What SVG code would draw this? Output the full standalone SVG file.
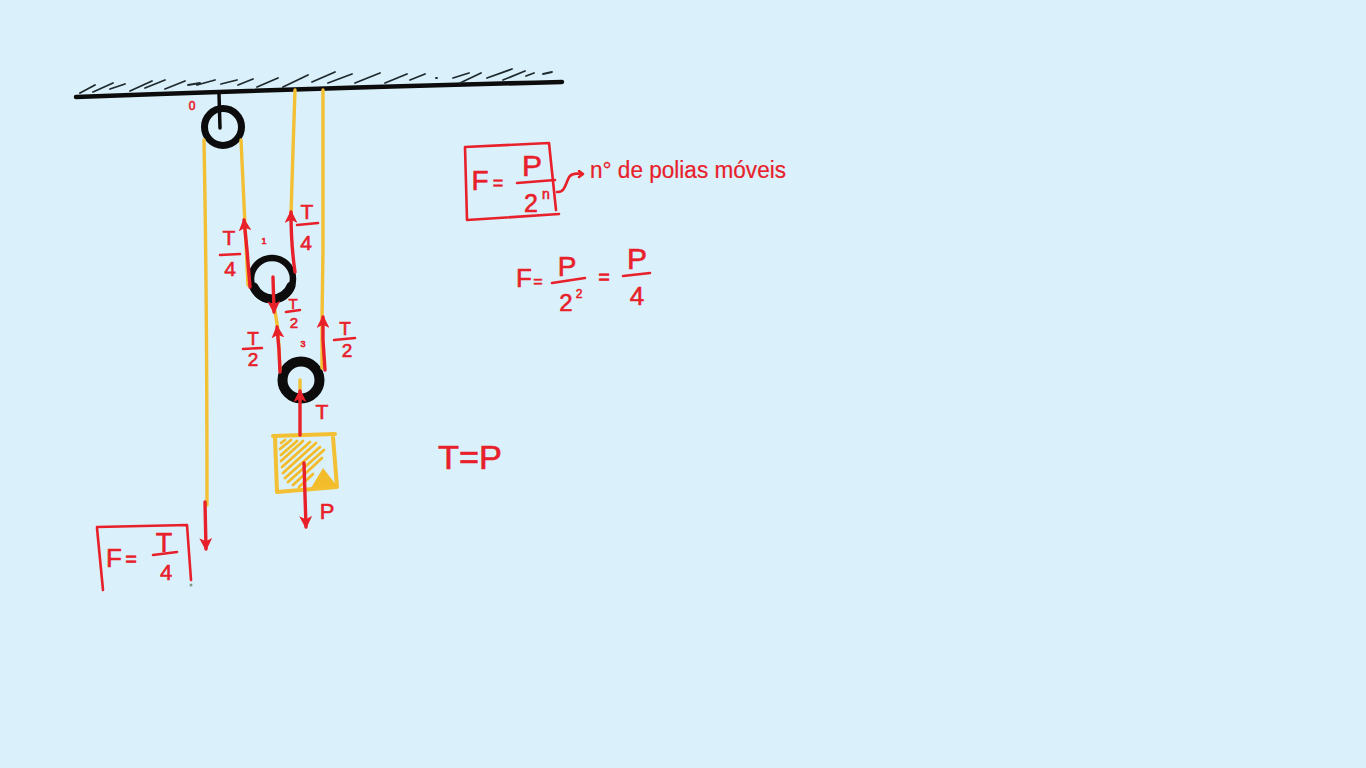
<svg xmlns="http://www.w3.org/2000/svg" width="1366" height="768" viewBox="0 0 1366 768">
<style>
.bg{fill:#daf1fb}
.k{fill:none;stroke:#0c0c0c;stroke-linecap:round;stroke-linejoin:round}
.h{fill:none;stroke:#1f2a2e;stroke-width:1.8;stroke-linecap:round}
.y{fill:none;stroke:#f3bf33;stroke-width:3.4;stroke-linecap:round;stroke-linejoin:round}
.b{fill:none;stroke:#f3bf33;stroke-width:4;stroke-linecap:round;stroke-linejoin:round}
.ys{fill:none;stroke:#f3bc2a;stroke-width:2.8;stroke-linecap:round}
.r{fill:none;stroke:#e8202a;stroke-width:2.6;stroke-linecap:round;stroke-linejoin:round}
.a{fill:none;stroke:#e8202a;stroke-width:3.4;stroke-linecap:round;stroke-linejoin:round;marker-end:url(#ah)}
text{font-family:"Liberation Sans",Arial,sans-serif;fill:#e8202a;stroke:#e8202a;stroke-width:.6;text-anchor:middle}
#label-polias text{stroke-width:.2}
</style>
<defs>
<marker id="ah" viewBox="0 0 10 10" refX="8.5" refY="5" markerWidth="3.8" markerHeight="3.8" orient="auto" markerUnits="strokeWidth">
<path d="M0 0L10 5L0 10L2.5 5Z" fill="#e8202a"/>
</marker>
</defs>
<rect class="bg" width="1366" height="768"/>

<g id="ceiling">
<path class="k" stroke-width="4.5" d="M76 97Q320 88 562 82"/>
<path class="h" d="M80 93L95 85M93 92L113 83M110 89L125 84M130 91L152 81M145 88L165 80M165 89L185 81M188 85L200 83M197 85L215 80M221 84L237 80M238 85L253 79M257 87L278 78M283 87L308 75M312 82L335 72M328 83L352 74M355 83L380 73M385 83L407 74M410 80L425 74M436 78L437 78M453 78L469 73M460 83L481 73M487 78L512 69M503 80L525 71M526 76L534 73M543 74L552 72"/>
</g>

<g id="pulley-1">
<path class="k" stroke-width="3.5" d="M219 94L220 128"/>
<circle class="k" stroke-width="7" cx="223" cy="127" r="18.5"/>
</g>
<g id="pulley-2">
<circle class="k" stroke-width="6.5" cx="272" cy="279" r="21"/>
<path class="k" stroke-width="9" d="M254 287A20 20 0 0 0 291 286"/>
</g>
<g id="pulley-3">
<circle class="k" stroke-width="10" cx="301" cy="380" r="18.5"/>
</g>

<g id="block">
<path class="b" d="M273 436L335 434M275 437L277 492L337 487L333 437"/>
<path class="ys" d="M281 443L285 440M280 449L291 440M281 455L297 441M281 461L303 441M282 467L310 442M283 473L316 443M285 478L320 447M288 482L324 450M293 485L322 458M299 487L313 474"/>
<path d="M323 468L337 486L311 488Z" fill="#f3bc2a"/>
</g>

<g id="connectors">
<path class="y" d="M204 140Q207 300 207 505"/>
<path class="y" d="M241 140L245 225L248 285"/>
<path class="y" d="M295 90L293 150L291 215"/>
<path class="y" d="M323 90L323 250L322 320L322 368"/>
<path class="y" d="M274 305L278 330L280 370"/>
<path class="y" d="M300 380V392"/>
<path class="a" d="M250 287L247 250L244 220"/>
<path class="a" d="M295 272Q291 245 291 212"/>
<path class="a" d="M273 277L274 312"/>
<path class="a" d="M280 372L279 350L277 327"/>
<path class="a" d="M325 370L323 340L323 317"/>
<path class="a" d="M300 435L300 391"/>
<path class="a" d="M304 463L306 527"/>
<path class="a" d="M205 502L206 549"/>
<path class="r" d="M557 192C566 193 566 180 570 176C574 172 578 174 582 174M579 171L583 174L579 177"/>
</g>

<g id="label-t4-left"><text x="229" y="245" font-size="21">T</text><path class="r" d="M220 255L240 254"/><text x="230" y="276" font-size="21">4</text></g>
<g id="label-t4-right"><text x="307" y="219" font-size="21">T</text><path class="r" d="M297 225L318 223"/><text x="306" y="250" font-size="21">4</text></g>
<g id="label-t2-center"><text x="293" y="309" font-size="15">T</text><path class="r" d="M286 312L300 310"/><text x="294" y="328" font-size="15">2</text></g>
<g id="label-t2-left"><text x="253" y="345" font-size="19">T</text><path class="r" d="M243 349L262 348"/><text x="253" y="366" font-size="19">2</text></g>
<g id="label-t2-right"><text x="345" y="335" font-size="19">T</text><path class="r" d="M334 340L355 338"/><text x="347" y="357" font-size="19">2</text></g>
<g id="label-t"><text x="322" y="419" font-size="21">T</text></g>
<g id="label-p"><text x="327" y="519" font-size="22">P</text></g>
<g id="label-0"><text x="192" y="110" font-size="12">0</text></g>
<g id="label-1"><text x="264" y="244" font-size="9">1</text></g>
<g id="label-3"><text x="303" y="347" font-size="9">3</text></g>

<g id="formula-general">
<path class="r" d="M465 147L549 143L556 210M465 147L467 220L559 214"/>
<text x="480" y="190" font-size="28">F</text><text x="498" y="189" font-size="18">=</text>
<text x="532" y="176" font-size="30">P</text>
<path class="r" d="M517 183L555 180"/>
<text x="531" y="212" font-size="25">2</text><text x="546" y="199" font-size="14">n</text>
</g>
<g id="label-polias"><text x="688" y="178" font-size="23" textLength="196" lengthAdjust="spacingAndGlyphs">n° de polias móveis</text></g>

<g id="formula-result">
<text x="524" y="287" font-size="26">F</text><text x="538" y="287" font-size="16">=</text>
<text x="567" y="276" font-size="28">P</text>
<path class="r" d="M552 283L585 278"/>
<text x="566" y="311" font-size="24">2</text><text x="579" y="298" font-size="12">2</text>
<text x="604" y="284" font-size="20">=</text>
<text x="637" y="269" font-size="30">P</text>
<path class="r" d="M623 276L650 273"/>
<text x="637" y="305" font-size="26">4</text>
</g>

<g id="formula-f">
<path class="r" d="M97 528L103 590M97 527L187 525L191 580"/>
<text x="114" y="567" font-size="26">F</text><text x="131" y="566" font-size="20">=</text>
<text x="164" y="552" font-size="27">T</text>
<path class="r" d="M153 555L177 552"/>
<text x="166" y="580" font-size="22">4</text>
<circle cx="191" cy="585" r="1.5" fill="#7d9a83"/>
</g>

<g id="equation-tp"><text x="470" y="469" font-size="33" textLength="64" lengthAdjust="spacingAndGlyphs">T=P</text></g>
</svg>
